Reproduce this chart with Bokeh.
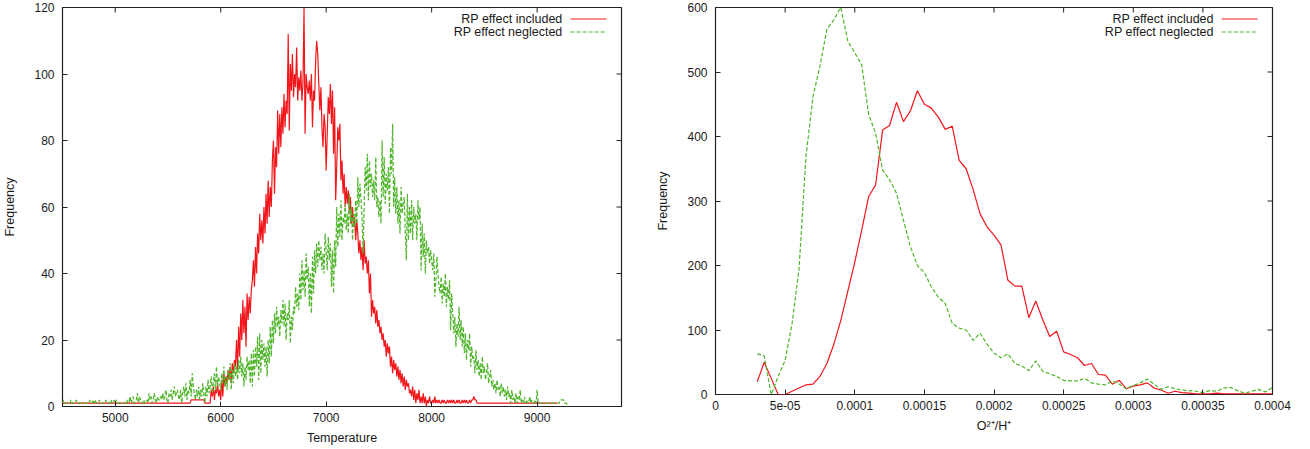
import numpy as np
from bokeh.plotting import figure
from bokeh.models import Range1d, FixedTicker, Label
from bokeh.layouts import row, column
from bokeh.embed import file_html
from bokeh.resources import INLINE

# ---------------- data: temperature histogram (bin width 10 K, first bin 4500 K)
temp_start, temp_step = 4500, 10
red_T = [
    1,1,1,1,1,1,1,1,1,1,1,1,1,1,1,1,1,1,1,1,
    1,1,1,1,1,1,1,1,1,1,1,1,1,1,1,1,1,1,1,1,
    1,1,1,1,1,1,1,1,1,1,1,1,1,1,1,1,1,1,1,1,
    1,1,1,1,1,1,1,1,1,1,1,1,1,1,1,1,1,1,1,1,
    1,1,1,1,1,1,1,1,1,1,1,1,1,1,1,1,1,1,1,1,
    1,1,1,1,1,1,1,1,1,1,1,1,1,1,1,1,1,1,1,1,
    1,1,2,2,2,2,2,2,2,2,
    2,2,2,2,2,1,1,1,1,1,
    1,5,3,6,2,5,4,7,3,5,
    2,8,3,10,6,9,7,11,8,12,
    7,13,10,14,12,20,11,24,15,28,
    20,32,22,30,18,34,26,33,28,35,
    38,44,36,48,40,52,46,58,50,56,
    49,60,52,64,55,68,57,66,60,74,
    80,64,78,72,89,76,88,78,90,82,
    94,84,92,88,112,83,103,95,106,93,
    100,96,108,92,99,95,101,92,97,120,
    82,100,96,94,98,92,100,84,95,92,
    104,110,106,97,89,96,84,78,88,84,
    71,82,93,88,97,85,95,76,90,62,
    72,84,80,85,68,74,64,70,60,66,
    61,65,58,63,55,60,54,57,50,56,
    52,46,50,44,48,41,50,43,45,40,
    44,34,40,27,32,28,30,25,29,24,
    26,22,24,20,22,18,20,15,19,16,
    18,12,15,10,14,11,13,9,12,8,
    11,7,10,6,9,5,8,6,7,4,
    5,3,6,2,5,1,4,2,5,1,
    3,1,4,1,3,0,2,1,3,1,
    1,2,1,3,1,2,1,2,1,1,
    2,1,2,1,1,2,1,2,1,2,
    1,2,1,1,2,1,2,1,1,2,
    1,2,1,2,1,1,2,1,2,2,
    3,2,2,1,1,1,1,1,1,1,
    1,1,1,1,1,1,1,1,1,1,1,1,1,1,1,1,1,1,1,1,
    1,1,1,1,1,1,1,1,1,1,1,1,1,1,1,1,1,1,1,1,
    1,1,1,1,1,1,1,1,1,1,1,1,1,1,1,1,1,1,1,1,
    1,1,1,1,1,1,1,1,1,1,
]
green_T = [
    1,2,1,1,1,1,1,1,2,1,
    1,1,1,2,1,1,1,1,1,1,
    1,1,1,1,1,1,2,1,1,2,
    1,2,1,1,1,2,1,1,1,1,
    1,2,1,1,1,1,2,1,1,2,
    1,2,1,1,1,1,1,1,1,1,
    1,2,1,1,3,1,2,3,1,1,
    2,4,1,3,2,1,1,2,1,1,
    2,1,4,2,3,1,2,4,2,1,
    3,2,2,3,2,4,2,3,5,2,
    1,4,3,5,2,4,6,3,4,5,
    3,2,5,1,4,6,3,7,2,5,
    4,8,3,10,6,4,2,5,3,6,
    2,5,3,7,4,1,6,3,8,4,
    6,9,4,7,10,5,12,6,9,7,
    5,10,7,12,6,9,5,11,8,13,
    5,11,7,13,9,12,8,14,10,15,
    9,13,6,12,8,15,11,14,7,16,
    6,17,9,18,12,21,8,22,10,20,
    14,19,12,18,9,20,13,24,15,26,
    19,28,22,30,24,27,21,29,25,32,
    24,31,20,28,26,32,19,27,23,30,
    28,36,30,34,29,40,32,44,35,41,
    33,46,38,42,30,40,28,45,34,47,
    40,49,42,50,44,48,41,46,40,52,
    47,41,51,44,49,36,47,34,50,42,
    60,48,58,51,62,50,57,55,61,53,
    58,52,64,55,60,50,58,54,62,55,
    69,60,67,62,57,46,60,72,65,76,
    62,74,66,70,63,68,62,75,60,63,
    57,62,55,80,63,75,61,70,65,72,
    58,78,70,85,60,69,58,66,55,62,
    52,66,58,61,63,52,44,64,50,60,
    52,62,50,60,55,58,50,62,56,60,
    41,55,45,52,40,50,46,48,43,47,
    44,41,46,33,38,45,40,36,34,39,
    31,37,33,40,30,36,32,38,23,34,
    28,22,27,18,25,21,30,20,26,18,
    24,16,22,14,20,17,22,12,18,14,
    15,10,17,11,14,9,13,8,15,10,
    12,8,10,13,7,9,11,6,8,5,
    7,4,8,5,6,3,7,4,6,3,
    5,2,6,3,4,1,5,2,3,1,
    4,1,3,2,5,1,2,1,3,1,
    2,1,1,3,1,2,1,1,2,1,
    5,1,1,1,1,1,1,1,1,1,
    1,1,1,1,1,1,1,1,1,1,
    1,1,2,2,2,2,1,1,1,0,
]

# ---------------- data: O2+/H+ histogram (bin width 5e-06, first bin 3e-05)
ratio_start, ratio_step = 3.0e-05, 5.0e-06
red_O = [20, 50, 25, 0, 0, 5, 10, 15, 16, 28,
         48, 78, 115, 160, 205, 255, 307, 325, 410, 417,
         453, 423, 440, 471, 450, 444, 430, 411, 416, 363,
         350, 318, 280, 260, 247, 232, 177, 168, 168, 119,
         145, 116, 90, 98, 66, 62, 57, 45, 48, 31,
         30, 16, 22, 9, 13, 15, 18, 10, 7, 2,
         5, 3, 2, 1, 1, 1, 2, 1, 1, 1,
         1, 1, 1, 1, 1]
green_O = [63, 60, 0, 28, 53, 110, 195, 370, 462, 509,
           566, 581, 600, 548, 530, 511, 434, 405, 348, 333,
           312, 270, 229, 200, 189, 167, 151, 141, 110, 103,
           100, 84, 95, 78, 64, 57, 63, 48, 44, 37,
           52, 36, 32, 28, 22, 21, 21, 25, 18, 16,
           15, 21, 16, 9, 14, 18, 24, 16, 8, 12,
           9, 7, 6, 5, 3, 6, 5, 10, 11, 6,
           2, 5, 8, 4, 11]

temp_ticks = [5000, 6000, 7000, 8000, 9000]
freq_ticks_T = [0, 20, 40, 60, 80, 100, 120]
ratio_ticks = [0.0, 5e-05, 1e-04, 1.5e-04, 2e-04, 2.5e-04, 3e-04, 3.5e-04, 4e-04]
ratio_tick_labels = ["0", "5e-05", "0.0001", "0.00015", "0.0002", "0.00025",
                     "0.0003", "0.00035", "0.0004"]
freq_ticks_O = [0, 100, 200, 300, 400, 500, 600]
series_labels = ["RP effect included", "RP effect neglected"]

RED = "#f2161b"
GREEN = "#4fb52a"
FONT = "Liberation Sans"
TXT = "#1a1a1a"
TICK = "#222222"
FRAME_W = 559


def style_axis(ax, ticks):
    ax.ticker = FixedTicker(ticks=ticks)
    ax.axis_line_color = None
    ax.major_tick_in = 5
    ax.major_tick_out = 0
    ax.major_tick_line_color = TICK
    ax.minor_tick_line_color = None
    ax.major_label_text_font = FONT
    ax.major_label_text_color = TXT
    ax.major_label_text_font_size = "12px"
    ax.axis_label_text_font = FONT
    ax.axis_label_text_font_style = "normal"
    ax.axis_label_text_color = TXT
    ax.axis_label_text_font_size = "12.5px"


def make_fig(width, height, xr, yr, xticks, yticks, xlabel, mb_left, mb_right,
             mb_bottom, overrides=None):
    p = figure(width=width, height=height, x_range=xr, y_range=yr,
               output_backend="svg", toolbar_location=None,
               min_border_left=mb_left, min_border_right=mb_right,
               min_border_top=7, min_border_bottom=mb_bottom,
               background_fill_color="white", border_fill_color="white")
    p.xgrid.visible = False
    p.ygrid.visible = False
    p.outline_line_color = TICK
    p.outline_line_width = 1.2
    style_axis(p.xaxis[0], xticks)
    style_axis(p.yaxis[0], yticks)
    p.xaxis[0].axis_label = xlabel
    p.yaxis[0].axis_label = "Frequency"
    p.xaxis[0].major_label_standoff = 6
    p.xaxis[0].axis_label_standoff = 6
    p.yaxis[0].major_label_standoff = 8
    p.yaxis[0].axis_label_standoff = 14
    if overrides:
        p.xaxis[0].major_label_overrides = overrides
    # mirrored inward ticks on the top and right frame edges (gnuplot style)
    frame_h = height - 7 - mb_bottom
    dy = 5.0 * (yr.end - yr.start) / frame_h
    dx = 5.0 * (xr.end - xr.start) / FRAME_W
    inner_x = [t for t in xticks if xr.start < t < xr.end]
    inner_y = [t for t in yticks if yr.start < t < yr.end]
    p.segment(x0=inner_x, x1=inner_x, y0=[yr.end] * len(inner_x),
              y1=[yr.end - dy] * len(inner_x), line_color=TICK, line_width=1)
    p.segment(x0=[xr.end] * len(inner_y), x1=[xr.end - dx] * len(inner_y),
              y0=inner_y, y1=inner_y, line_color=TICK, line_width=1)
    return p


def add_series(p, x, red, green):
    p.line(x[:len(red)], red, line_color=RED, line_width=1.2)
    p.line(x[:len(green)], green, line_color=GREEN, line_width=1.2, line_dash="4 2")


def add_legend(p, xr, yr, frame_h):
    span_x = xr.end - xr.start
    span_y = yr.end - yr.start
    tx = xr.start + 0.8945 * span_x
    sx0 = xr.start + 0.9088 * span_x
    sx1 = xr.start + 0.9732 * span_x
    rows_y = [yr.end - 11.5 / frame_h * span_y, yr.end - 24.5 / frame_h * span_y]
    styles = [dict(line_color=RED, line_width=1.2),
              dict(line_color=GREEN, line_width=1.2, line_dash="4 2")]
    for lab, yy, st in zip(series_labels, rows_y, styles):
        p.add_layout(Label(x=tx, y=yy, text=lab, text_align="right",
                           text_baseline="middle", text_font=FONT,
                           text_font_size="12.5px", text_color=TXT))
        p.line([sx0, sx1], [yy, yy], **st)


# ---------------- left panel (frame 62..621 x 7..406)
xr1 = Range1d(4500, 9800)
yr1 = Range1d(0, 120)
p1 = make_fig(653, 448, xr1, yr1, temp_ticks, freq_ticks_T, "Temperature", 62, 32, 42)
T_bins = temp_start + temp_step * np.arange(max(len(red_T), len(green_T)))
add_series(p1, T_bins, red_T, green_T)
add_legend(p1, xr1, yr1, 448 - 7 - 42)

# ---------------- right panel (frame 713..1272 x 7..394)
xr2 = Range1d(0, 0.0004)
yr2 = Range1d(0, 600)
p2 = make_fig(649, 448, xr2, yr2, ratio_ticks, freq_ticks_O, "O\u00b2\u207a/H\u207a", 60, 30, 54,
              overrides={t: s for t, s in zip(ratio_ticks, ratio_tick_labels)})
R_bins = ratio_start + ratio_step * np.arange(max(len(red_O), len(green_O)))
add_series(p2, R_bins, red_O, green_O)
add_legend(p2, xr2, yr2, 448 - 7 - 54)

layout = row(column(p1), column(p2))
open("out.html", "w").write(file_html(layout, INLINE))
